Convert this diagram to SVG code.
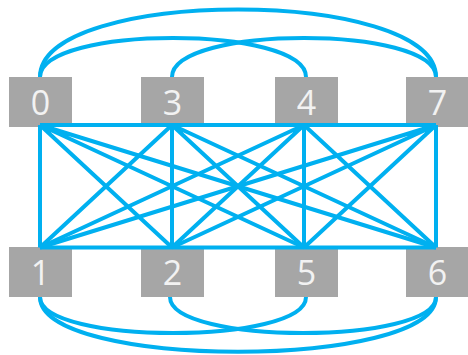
<svg xmlns="http://www.w3.org/2000/svg" width="468" height="355" viewBox="0 0 468 355">
<style>
.box{fill:#A6A6A6}
.lbl{fill:#F2F2F2;font-family:"Open Sans","DejaVu Sans",sans-serif;font-size:34px;text-anchor:middle;dominant-baseline:central}
.e{stroke:#00B0F0;stroke-width:4;fill:none;stroke-linecap:butt}
</style>
<g id="node-0"><rect class="box" x="9" y="77" width="63" height="50"/><text class="lbl" x="40.5" y="102">0</text></g>
<g id="node-3"><rect class="box" x="141" y="77" width="63" height="50"/><text class="lbl" x="172.5" y="102">3</text></g>
<g id="node-4"><rect class="box" x="275" y="77" width="63" height="50"/><text class="lbl" x="306.5" y="102">4</text></g>
<g id="node-7"><rect class="box" x="406" y="77" width="63" height="50"/><text class="lbl" x="437.5" y="102">7</text></g>
<g id="node-1"><rect class="box" x="9" y="247" width="63" height="50"/><text class="lbl" x="40.5" y="272">1</text></g>
<g id="node-2"><rect class="box" x="141" y="247" width="63" height="50"/><text class="lbl" x="172.5" y="272">2</text></g>
<g id="node-5"><rect class="box" x="275" y="247" width="63" height="50"/><text class="lbl" x="306.5" y="272">5</text></g>
<g id="node-6"><rect class="box" x="406" y="247" width="63" height="50"/><text class="lbl" x="437.5" y="272">6</text></g>
<g id="connectors">
<path class="e" d="M40 125H172M172 125H304M304 125H436"/>
<path class="e" d="M40 247.5H172M172 247.5H304M304 247.5H436"/>
<path class="e" d="M40 125L40 247.5M40 125L172 247.5M40 125L304 247.5M40 125L436 247.5"/>
<path class="e" d="M172 125L40 247.5M172 125L172 247.5M172 125L304 247.5M172 125L436 247.5"/>
<path class="e" d="M304 125L40 247.5M304 125L172 247.5M304 125L304 247.5M304 125L436 247.5"/>
<path class="e" d="M436 125L40 247.5M436 125L172 247.5M436 125L304 247.5M436 125L436 247.5"/>
<path class="e" d="M40 77C40 -13 436 -13 436 77"/>
<path class="e" d="M40 77C40 25 306 25 306 77"/>
<path class="e" d="M172 77C172 25 436 25 436 77"/>
<path class="e" d="M40 297C40 370 436 370 436 297"/>
<path class="e" d="M40 297C40 345 306 345 306 297"/>
<path class="e" d="M170 297C170 345 436 345 436 297"/>
</g>
</svg>
